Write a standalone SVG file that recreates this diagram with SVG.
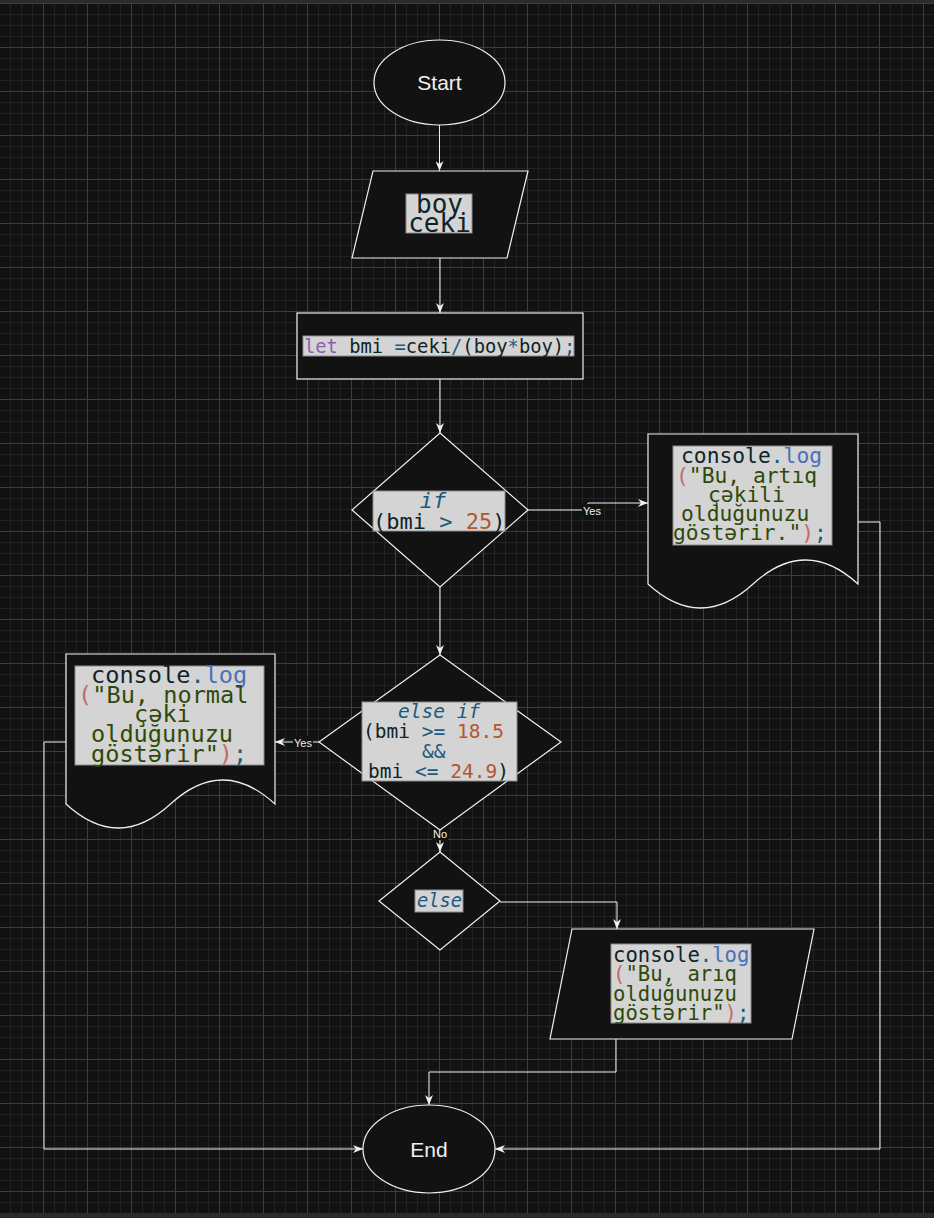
<svg xmlns="http://www.w3.org/2000/svg" width="934" height="1218" viewBox="0 0 934 1218">
<style>
.code{font-family:"DejaVu Sans Mono",monospace;}
.d{fill:#0e2428}
.op{fill:#1c5b7e}
.kw{fill:#8a5fb0}
.num{fill:#b5562f}
.str{fill:#2e4a0a}
.par{fill:#c8686a}
.fn{fill:#4b6fb8}
.it{font-style:italic;fill:#1c5b7e}
.hl{fill:#d4d4d4;stroke:#8c8c8c;stroke-width:1}
.shape{fill:#121212;stroke:#f0f0f0;stroke-width:1.2}
.edge{fill:none;stroke:#f0f0f0;stroke-width:1;marker-end:url(#arr)}
.line{fill:none;stroke:#f0f0f0;stroke-width:1}
.lbl{font-family:"Liberation Sans",Arial,sans-serif;font-size:11px;fill:#f0f0f0;text-anchor:middle}
.lblbg{fill:#121212}
.term{font-family:"Liberation Sans",Arial,sans-serif;font-size:21px;fill:#f0f0f0;text-anchor:middle}
</style>
<defs>
<pattern id="grid" patternUnits="userSpaceOnUse" x="43" y="47" width="44" height="44">
<rect x="11" y="0" width="1" height="44" fill="#222"/>
<rect x="22" y="0" width="1" height="44" fill="#222"/>
<rect x="33" y="0" width="1" height="44" fill="#222"/>
<rect x="0" y="11" width="44" height="1" fill="#222"/>
<rect x="0" y="22" width="44" height="1" fill="#222"/>
<rect x="0" y="33" width="44" height="1" fill="#222"/>
<rect x="0" y="0" width="1" height="44" fill="#3e3e3e"/>
<rect x="0" y="0" width="44" height="1" fill="#3e3e3e"/>
</pattern>
<marker id="arr" markerUnits="userSpaceOnUse" viewBox="0 0 10 8" refX="10" refY="4" markerWidth="10" markerHeight="8" orient="auto">
<path d="M0,0 L10,4 L0,8 L3,4 Z" fill="#f0f0f0"/>
</marker>
</defs>
<rect x="0" y="0" width="934" height="1218" fill="#121212"/>
<rect x="0" y="3" width="934" height="1210" fill="url(#grid)"/>
<rect x="0" y="0" width="934" height="3" fill="#2b2b2b"/>
<rect x="0" y="1213" width="934" height="5" fill="#2b2b2b"/>

<g id="connectors">
<path class="edge" d="M439.5,125 V171"/>
<path class="edge" d="M440,258 V313"/>
<path class="edge" d="M440,379 V433"/>
<path class="edge" d="M528,510 H588 V503 H648"/>
<rect class="lblbg" x="582" y="504" width="20" height="13"/>
<text class="lbl" x="592" y="515">Yes</text>
<path class="edge" d="M858,522 H880 V1149 H495"/>
<path class="edge" d="M440,587 V655"/>
<path class="edge" d="M319,742 H275"/>
<rect class="lblbg" x="293" y="736" width="20" height="13"/>
<text class="lbl" x="303" y="747">Yes</text>
<path class="edge" d="M66,742 H44 V1149 H363"/>
<path class="edge" d="M440,830 V852"/>
<rect class="lblbg" x="432" y="828" width="16" height="12"/>
<text class="lbl" x="440" y="838">No</text>
<path class="edge" d="M500,902 H617 V929"/>
<path class="edge" d="M616,1039 V1072 H429 V1105"/>
</g>

<g id="start">
<ellipse class="shape" cx="439.5" cy="82.5" rx="65.5" ry="42.5"/>
<text class="term" x="439.5" y="90">Start</text>
</g>

<g id="input">
<polygon class="shape" points="373,171 528,171 507,258 352,258"/>
<rect class="hl" x="406" y="194" width="66" height="39"/>
<text class="code d" font-size="26" text-anchor="middle" x="439.5" y="213">boy</text>
<text class="code d" font-size="26" text-anchor="middle" x="439.5" y="232">ceki</text>
</g>

<g id="calc">
<rect class="shape" x="297" y="313" width="286" height="66"/>
<rect class="hl" x="303" y="336" width="271" height="20"/>
<text class="code" font-size="18.8" x="304" y="353" xml:space="preserve"><tspan class="kw">let</tspan><tspan class="d"> bmi </tspan><tspan class="op">=</tspan><tspan class="d">ceki</tspan><tspan class="op">/</tspan><tspan class="d">(boy</tspan><tspan class="op">*</tspan><tspan class="d">boy)</tspan><tspan class="op">;</tspan></text>
</g>

<g id="if">
<polygon class="shape" points="440,433 528,510 440,587 352,510"/>
<rect class="hl" x="373" y="491" width="132" height="40"/>
<text class="code it" font-size="22" text-anchor="middle" x="433" y="508">if</text>
<text class="code" font-size="22" x="373" y="529" xml:space="preserve"><tspan class="d">(bmi </tspan><tspan class="op">&gt;</tspan><tspan class="d"> </tspan><tspan class="num">25</tspan><tspan class="d">)</tspan></text>
</g>

<g id="out-overweight">
<path class="shape" d="M648,434 H858 V584 Q805.5,536 753,584 Q700.5,632 648,584 Z"/>
<rect class="hl" x="673" y="446" width="159" height="99"/>
<text class="code" font-size="21.3" x="681" y="463"><tspan class="d">console</tspan><tspan class="op">.</tspan><tspan class="fn">log</tspan></text>
<text class="code" font-size="21.3" x="676" y="483" xml:space="preserve"><tspan class="par">(</tspan><tspan class="str">"Bu, artıq</tspan></text>
<text class="code str" font-size="21.3" x="708" y="502">çəkili</text>
<text class="code str" font-size="21.3" x="681" y="521">olduğunuzu</text>
<text class="code" font-size="21.3" x="673" y="540"><tspan class="str">göstərir."</tspan><tspan class="par">)</tspan><tspan class="op">;</tspan></text>
</g>

<g id="elseif">
<polygon class="shape" points="440,655 561,742 440,830 319,742"/>
<rect class="hl" x="362" y="702" width="155" height="79"/>
<text class="code it" font-size="19.5" x="398" y="718" xml:space="preserve">else if</text>
<text class="code" font-size="19.5" x="363" y="738" xml:space="preserve"><tspan class="d">(bmi </tspan><tspan class="op">&gt;=</tspan><tspan class="d"> </tspan><tspan class="num">18.5</tspan></text>
<text class="code op" font-size="19.5" x="422" y="758">&amp;&amp;</text>
<text class="code" font-size="19.5" x="368" y="778" xml:space="preserve"><tspan class="d">bmi </tspan><tspan class="op">&lt;=</tspan><tspan class="d"> </tspan><tspan class="num">24.9</tspan><tspan class="d">)</tspan></text>
</g>

<g id="out-normal">
<path class="shape" d="M66,654 H275 V804 Q222.75,756 170.5,804 Q118.25,852 66,804 Z"/>
<rect class="hl" x="75" y="666" width="189" height="99"/>
<text class="code" font-size="23.6" x="91" y="683"><tspan class="d">console</tspan><tspan class="op">.</tspan><tspan class="fn">log</tspan></text>
<text class="code" font-size="23.6" x="78" y="703" xml:space="preserve"><tspan class="par">(</tspan><tspan class="str">"Bu, normal</tspan></text>
<text class="code str" font-size="23.6" x="134" y="722">çəki</text>
<text class="code str" font-size="23.6" x="91" y="742">olduğunuzu</text>
<text class="code" font-size="23.6" x="91" y="762"><tspan class="str">göstərir"</tspan><tspan class="par">)</tspan><tspan class="op">;</tspan></text>
</g>

<g id="else">
<polygon class="shape" points="440,852 500,901 440,950 379,901"/>
<rect class="hl" x="415" y="890" width="48" height="22"/>
<text class="code it" font-size="18.7" x="417" y="907">else</text>
</g>

<g id="out-thin">
<polygon class="shape" points="572,929 814,929 792,1039 550,1039"/>
<rect class="hl" x="611" y="944" width="140" height="79"/>
<text class="code" font-size="20.6" x="613" y="962"><tspan class="d">console</tspan><tspan class="op">.</tspan><tspan class="fn">log</tspan></text>
<text class="code" font-size="20.6" x="613" y="981" xml:space="preserve"><tspan class="par">(</tspan><tspan class="str">"Bu, arıq</tspan></text>
<text class="code str" font-size="20.6" x="613" y="1001">olduğunuzu</text>
<text class="code" font-size="20.6" x="613" y="1020"><tspan class="str">göstərir"</tspan><tspan class="par">)</tspan><tspan class="op">;</tspan></text>
</g>

<g id="end">
<ellipse class="shape" cx="429" cy="1149" rx="66" ry="44"/>
<text class="term" x="429" y="1157">End</text>
</g>
</svg>
